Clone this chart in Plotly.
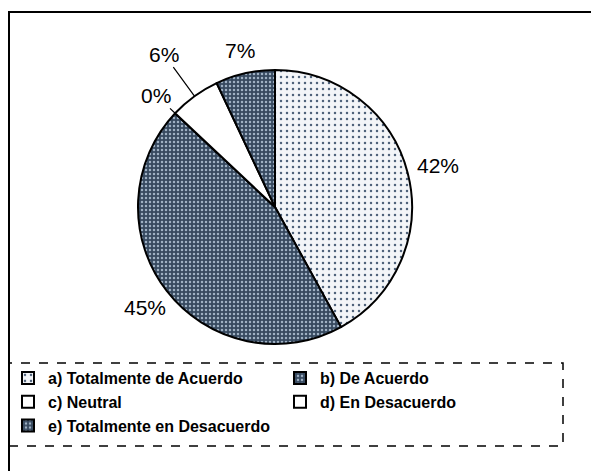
import math

import plotly.graph_objects as go

labels = [
    "a) Totalmente de Acuerdo",
    "b) De Acuerdo",
    "c) Neutral",
    "d) En Desacuerdo",
    "e) Totalmente en Desacuerdo",
]
values = [42, 45, 0, 6, 7]
percent_text = ["42%", "45%", "0%", "6%", "7%"]

# label distance from centre (in pie radii) and which labels get a leader line
LABEL_DIST = [1.23, 1.20, 1.19, 1.38, 1.17]
LEADER = [False, False, True, True, False]

W, H = 599, 471
OFF = 8  # page body margin: figure pixel p shows up at p + OFF


def px(x):
    return (x - OFF) / W


def py(y):
    return 1 - (y - OFF) / H


# pie geometry in page pixels
PIE_CX, PIE_CY, PIE_R = 275, 207, 137

LIGHT = "#f3f5f8"
DARK = "#36495f"

fig = go.Figure(
    go.Pie(
        labels=labels,
        values=values,
        textinfo="none",
        sort=False,
        direction="clockwise",
        rotation=0,
        marker=dict(
            colors=[LIGHT, DARK, "white", "white", DARK],
            line=dict(color="black", width=2),
            pattern=dict(
                shape=[".", ".", "", "", "."],
                bgcolor=[LIGHT, DARK, "white", "white", DARK],
                fgcolor=["#4f627a", "#9fb1c4", "white", "white", "#9fb1c4"],
                size=[6, 4, 6, 6, 4],
                solidity=[0.14, 0.3, 0.1, 0.1, 0.3],
            ),
        ),
        domain=dict(x=[px(PIE_CX - PIE_R), px(PIE_CX + PIE_R)],
                    y=[py(PIE_CY + PIE_R), py(PIE_CY - PIE_R)]),
        showlegend=True,
        hoverinfo="label+percent",
    )
)

# percentage labels placed radially at each slice's mid angle
total = sum(values)
cum = 0
annotations = []
for val, txt, dist, lead in zip(values, percent_text, LABEL_DIST, LEADER):
    mid = (cum + val / 2) / total * 2 * math.pi
    cum += val
    sx, sy = math.sin(mid), math.cos(mid)
    tx = PIE_CX + sx * PIE_R * dist
    ty = PIE_CY - sy * PIE_R * dist
    if lead:
        ex = PIE_CX + sx * PIE_R
        ey = PIE_CY - sy * PIE_R
        annotations.append(dict(
            x=px(ex), y=py(ey), xref="paper", yref="paper",
            text=txt, showarrow=True, arrowhead=0, arrowwidth=1.2,
            arrowcolor="black", ax=tx - ex, ay=ty - ey, standoff=0,
            font=dict(size=21, color="black"),
        ))
    else:
        annotations.append(dict(
            x=px(tx), y=py(ty), xref="paper", yref="paper",
            xanchor="center", yanchor="middle",
            text=txt, showarrow=False,
            font=dict(size=21, color="black"),
        ))

fig.update_layout(
    width=W,
    height=H,
    margin=dict(l=0, r=0, t=0, b=0),
    paper_bgcolor="white",
    plot_bgcolor="white",
    font=dict(family="Liberation Sans, Arial", color="black"),
    annotations=annotations,
    legend=dict(
        orientation="h",
        x=0,
        y=py(361),
        xanchor="left",
        yanchor="top",
        entrywidth=227,
        entrywidthmode="pixels",
        traceorder="normal",
        font=dict(size=16, family="Liberation Sans, Arial", weight="bold"),
        bgcolor="rgba(0,0,0,0)",
    ),
    shapes=[
        # outer frame
        dict(type="rect", xref="paper", yref="paper",
             x0=px(9), x1=1.05, y0=-0.05, y1=py(12),
             line=dict(color="black", width=2)),
        # legend frame
        dict(type="rect", xref="paper", yref="paper",
             x0=px(9), x1=px(563), y0=py(446), y1=py(363),
             line=dict(color="black", width=1.5, dash="dash")),
    ],
)

fig.write_html("out.html")
